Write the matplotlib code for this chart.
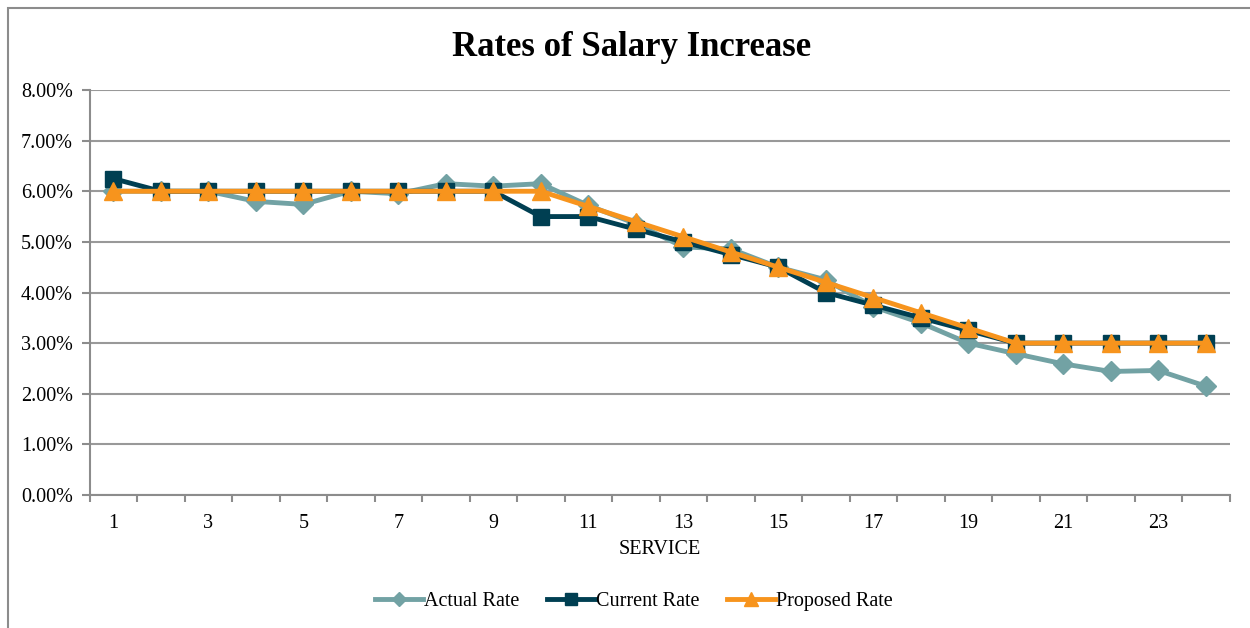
import matplotlib
matplotlib.use("Agg")
import matplotlib.pyplot as plt
from matplotlib.ticker import FuncFormatter, MultipleLocator, FixedLocator
from matplotlib.patches import Rectangle

service = list(range(1, 25))
actual_rate = [6.00, 6.00, 6.00, 5.80, 5.74, 6.00, 5.95, 6.15, 6.10, 6.15,
               5.72, 5.36, 4.90, 4.86, 4.50, 4.25, 3.72, 3.40, 3.00, 2.79,
               2.59, 2.44, 2.46, 2.15]
current_rate = [6.25, 6.00, 6.00, 6.00, 6.00, 6.00, 6.00, 6.00, 6.00, 5.50,
                5.50, 5.25, 5.00, 4.75, 4.50, 4.00, 3.75, 3.50, 3.25, 3.00,
                3.00, 3.00, 3.00, 3.00]
proposed_rate = [6.00, 6.00, 6.00, 6.00, 6.00, 6.00, 6.00, 6.00, 6.00, 6.00,
                 5.70, 5.40, 5.10, 4.80, 4.50, 4.20, 3.90, 3.60, 3.30, 3.00,
                 3.00, 3.00, 3.00, 3.00]
tick_labels = [str(s) if s % 2 == 1 else "" for s in service]

plt.rcParams['font.family'] = ['Liberation Serif', 'DejaVu Serif']

fig = plt.figure(figsize=(12.5, 6.28), dpi=100)
# outer chart frame (only top/left visible in reference)
fig.patches.append(Rectangle((8/1250, -0.1), 1.2, 1 - 7.5/628 + 0.1,
                             transform=fig.transFigure, fill=False,
                             edgecolor='#8c8c8c', linewidth=1.5))

ax = fig.add_axes([89.5/1250, 1 - 495/628, 1140/1250, 405/628])

c_actual = '#72A2A4'
c_current = '#003F52'
c_proposed = '#F7941D'

ax.plot(service, actual_rate, color=c_actual, lw=3.5, marker='D', ms=10,
        label='Actual Rate', zorder=3)
ax.plot(service, current_rate, color=c_current, lw=3.5, marker='s', ms=11,
        label='Current Rate', zorder=4)
ax.plot(service, proposed_rate, color=c_proposed, lw=3.5, marker='^', ms=13,
        label='Proposed Rate', zorder=5)

ax.set_xlim(0.5, 24.5)
ax.set_ylim(0, 8)
ax.yaxis.set_major_locator(MultipleLocator(1))
ax.yaxis.set_major_formatter(FuncFormatter(lambda v, p: f"{v:.2f}%"))
ax.xaxis.set_major_locator(FixedLocator(service))
ax.set_xticklabels(tick_labels)
ax.xaxis.set_minor_locator(FixedLocator([s + 0.5 for s in [0] + service]))
ax.tick_params(axis='x', which='major', length=0, labelsize=14.5, pad=14)
ax.tick_params(axis='x', which='minor', length=5, width=1.5, color='#8c8c8c')
ax.tick_params(axis='y', length=6, width=1.5, color='#8c8c8c', labelsize=14.5, pad=6)

ax.grid(axis='y', color='#999999', lw=1.5)
ax.set_axisbelow(True)
for s in ['top', 'right']:
    ax.spines[s].set_visible(False)
for s in ['left', 'bottom']:
    ax.spines[s].set_color('#8c8c8c')
    ax.spines[s].set_linewidth(1.5)

ax.set_xlabel('SERVICE', fontsize=14.5, labelpad=5)
fig.text(0.505, 1 - 47/628, 'Rates of Salary Increase', ha='center', va='center',
         fontsize=25, fontweight='bold')

leg = fig.legend(loc='center', bbox_to_anchor=(0.507, 1 - 601/628), ncol=3,
                 frameon=False, fontsize=14.5, handlelength=2.4, handletextpad=0.05,
                 columnspacing=1.35, markerscale=0.75)

fig.savefig('out.png', dpi=100)
